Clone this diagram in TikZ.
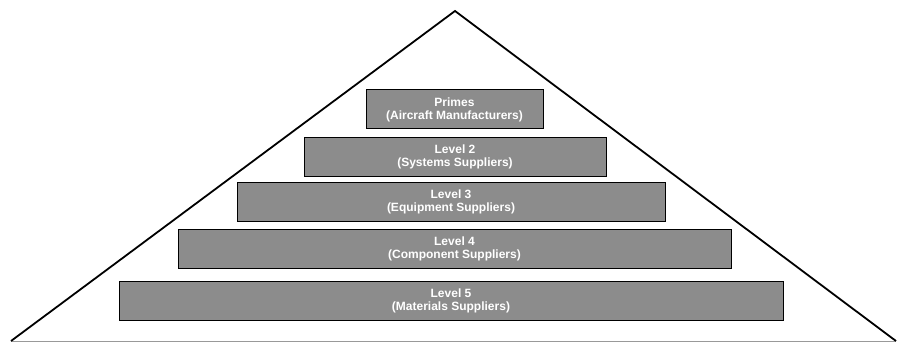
\documentclass[tikz,border=0pt]{standalone}
\usepackage{fontspec}
\setmainfont{Liberation Sans}
\usetikzlibrary{positioning}
\definecolor{grisbloc}{rgb}{0.55,0.55,0.55}
\definecolor{grisbase}{rgb}{0.6,0.6,0.6}

\begin{document}
\begin{tikzpicture}[x=1pt, y=-1pt]
	\tikzstyle{level}=[rectangle, draw=black, line width=1pt, fill=grisbloc, text=white, align=center, inner sep=0pt,
		minimum height=39pt, font=\fontsize{12}{13}\selectfont\bfseries]

	\useasboundingbox (0,0) rectangle (898,342);

	% PYRAMIDE
	\coordinate (Top) at (455,11);
	\coordinate (BaseL) at (11,341);
	\coordinate (BaseR) at (896,341);
	\draw[grisbase, line width=0.8pt] (BaseL) -- (BaseR);
	\draw[black, line width=1.8pt, line join=miter] (BaseL) -- (Top) -- (BaseR);

	% NIVEAUX
	\node[level, minimum width=177pt] (L1) at (454.5,109.5) {Primes\\(Aircraft Manufacturers)};
	\node[level, minimum width=302pt] (L2) at (455,157) {Level 2\\(Systems Suppliers)};
	\node[level, minimum width=428pt] (L3) at (451,202) {Level 3\\(Equipment Suppliers)};
	\node[level, minimum width=553pt] (L4) at (454.5,249) {Level 4\\(Component Suppliers)};
	\node[level, minimum width=664pt] (L5) at (451,300.5) {Level 5\\(Materials Suppliers)};
\end{tikzpicture}
\end{document}
